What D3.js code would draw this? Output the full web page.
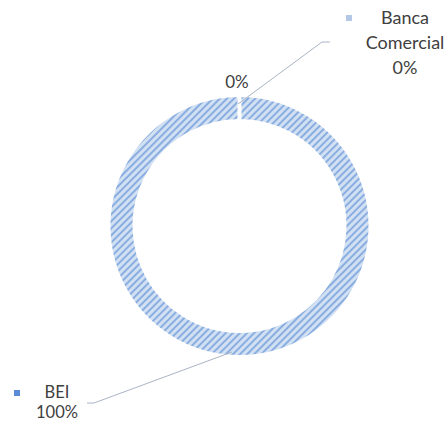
<!DOCTYPE html>
<html><head><meta charset="utf-8">
<script src="https://cdn.jsdelivr.net/npm/d3@7"></script>
<style>body{margin:0;background:#fff}</style>
</head><body>
<svg id="c" width="446" height="422"></svg>
<script>
const categories = ["Banca Comercial", "BEI"];
const values = [0, 100];
const pctLabels = ["0%", "100%"];

const svg = d3.select("#c");
const cx = 239.5, cy = 226, rOut = 131, rIn = 105;
const defs = svg.append("defs");
const pat = defs.append("pattern").attr("id","hatch").attr("patternUnits","userSpaceOnUse")
  .attr("width",5).attr("height",5).attr("patternTransform","rotate(45)");
pat.append("rect").attr("width",5).attr("height",5).attr("fill","#d2e0f3");
pat.append("rect").attr("width",2).attr("height",5).attr("fill","#8aaee0");

const pie = d3.pie().sort(null).value(d=>d);
const arcs = pie(values.map(v=>v===0?0.0001:v));
const arc = d3.arc().innerRadius(rIn).outerRadius(rOut);
const g = svg.append("g").attr("transform",`translate(${cx},${cy})`);
g.selectAll("path").data(arcs).join("path")
  .attr("d",arc).attr("fill","url(#hatch)").attr("stroke","#fff").attr("stroke-width",4);

const font = "Lato, sans-serif";
const txt = "#404040";
svg.append("text").attr("x",237).attr("y",88).attr("text-anchor","middle")
  .attr("font-family",font).attr("font-size",17).attr("fill",txt).text(pctLabels[0]);

const line = d3.line();
svg.append("path").attr("d",line([[238,104],[322,42],[330,42]]))
  .attr("fill","none").attr("stroke","#aab4c4").attr("stroke-width",1);
svg.append("path").attr("d",line([[87,403],[94,403],[232,352]]))
  .attr("fill","none").attr("stroke","#aab4c4").attr("stroke-width",1);

svg.append("rect").attr("x",346).attr("y",15).attr("width",6).attr("height",6).attr("fill","#b4c7e7");
const t1 = svg.append("text").attr("text-anchor","middle").attr("font-family",font)
  .attr("font-size",18).attr("fill",txt);
["Banca","Comercial",pctLabels[0]].forEach((s,i)=>t1.append("tspan").attr("x",405).attr("y",24+i*25).text(s));

svg.append("rect").attr("x",14).attr("y",390).attr("width",6).attr("height",6).attr("fill","#5b8ad6");
const t2 = svg.append("text").attr("text-anchor","middle").attr("font-family",font)
  .attr("font-size",16.5).attr("fill",txt);
[categories[1],pctLabels[1]].forEach((s,i)=>t2.append("tspan").attr("x",57).attr("y",398+i*20).text(s));
</script>
</body></html>
